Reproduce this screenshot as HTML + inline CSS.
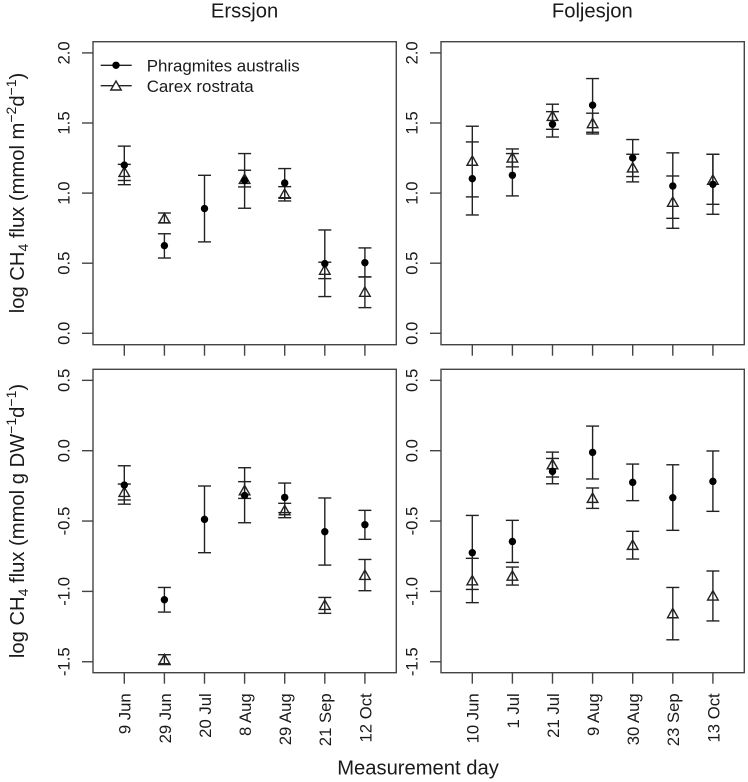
<!DOCTYPE html>
<html lang="en">
<head>
<meta charset="utf-8">
<title>Methane flux chart</title>
<style>
html,body{margin:0;padding:0;background:#fff;}
svg{display:block;}
text{font-family:"Liberation Sans",Arial,sans-serif;fill:#1a1a1a;}
</style>
</head>
<body>
<svg id="chart" xmlns="http://www.w3.org/2000/svg" width="748" height="782" viewBox="0 0 748 782">
  <rect x="0" y="0" width="748" height="782" fill="#fff"/>
  <text x="244.6" y="17.5" font-size="20.2" text-anchor="middle">Erssjon</text>
  <text x="592.3" y="17.5" font-size="20.2" text-anchor="middle">Foljesjon</text>
  <text x="418" y="774.3" font-size="20.2" text-anchor="middle">Measurement day</text>
  <text transform="translate(24,193) rotate(-90)" font-size="20.2" text-anchor="middle">log CH<tspan font-size="14" dy="4">4</tspan><tspan dy="-4"> flux (mmol m</tspan><tspan font-size="14" dy="-8">−2</tspan><tspan dy="8">d</tspan><tspan font-size="14" dy="-8">−1</tspan><tspan dy="8">)</tspan></text>
  <text transform="translate(24,521) rotate(-90)" font-size="20.2" text-anchor="middle">log CH<tspan font-size="14" dy="4">4</tspan><tspan dy="-4"> flux (mmol g DW</tspan><tspan font-size="14" dy="-8">−1</tspan><tspan dy="8">d</tspan><tspan font-size="14" dy="-8">−1</tspan><tspan dy="8">)</tspan></text>
  <g id="plots"></g>
  <g>
    <g>
      <line x1="100.7" x2="131.7" y1="65.3" y2="65.3" stroke="#222" stroke-width="1.4"/>
      <circle cx="116" cy="65.3" r="3.7" fill="#000"/>
      <text x="146.7" y="71.3" font-size="16.9">Phragmites australis</text>
    </g>
    <g>
      <line x1="100.7" x2="131.7" y1="85.7" y2="85.7" stroke="#222" stroke-width="1.4"/>
      <polygon points="116,81 121.2,90 110.8,90" fill="#fff" stroke="#222" stroke-width="1.4"/>
      <text x="146.7" y="92" font-size="16.9">Carex rostrata</text>
    </g>
  </g>
</svg>
<script>
// Tick labels
const areaTickValues = [0, 0.5, 1, 1.5, 2];
const areaTickLabels = ['0.0', '0.5', '1.0', '1.5', '2.0'];
const massTickValues = [-1.5, -1, -0.5, 0, 0.5];
const massTickLabels = ['-1.5', '-1.0', '-0.5', '0.0', '0.5'];

// Categories
const erssjonDates = ['9 Jun', '29 Jun', '20 Jul', '8 Aug', '29 Aug', '21 Sep', '12 Oct'];
const foljesjonDates = ['10 Jun', '1 Jul', '21 Jul', '9 Aug', '30 Aug', '23 Sep', '13 Oct'];

// Erssjon, per unit area
const erssjonAreaPhragMean = [1.20, 0.625, 0.89, 1.09, 1.072, 0.497, 0.504];
const erssjonAreaPhragUpper = [1.335, 0.71, 1.127, 1.282, 1.175, 0.737, 0.609];
const erssjonAreaPhragLower = [1.09, 0.537, 0.652, 0.892, 0.967, 0.262, 0.402];
const erssjonAreaCarexMean = [1.15, 0.82, null, 1.10, 0.994, 0.452, 0.295];
const erssjonAreaCarexUpper = [1.205, 0.858, null, 1.163, 1.046, 0.507, 0.402];
const erssjonAreaCarexLower = [1.06, 0.787, null, 1.044, 0.944, 0.39, 0.183];

// Foljesjon, per unit area
const foljesjonAreaPhragMean = [1.103, 1.127, 1.491, 1.627, 1.251, 1.051, 1.063];
const foljesjonAreaPhragUpper = [1.365, 1.282, 1.581, 1.817, 1.382, 1.287, 1.277];
const foljesjonAreaPhragLower = [0.844, 0.98, 1.40, 1.434, 1.118, 0.82, 0.849];
const foljesjonAreaCarexMean = [1.23, 1.253, 1.55, 1.498, 1.182, 0.937, 1.094];
const foljesjonAreaCarexUpper = [1.477, 1.315, 1.634, 1.57, 1.277, 1.122, 1.277];
const foljesjonAreaCarexLower = [0.973, 1.187, 1.455, 1.422, 1.08, 0.749, 0.92];

// Erssjon, per unit dry weight
const erssjonMassPhragMean = [-0.244, -1.059, -0.488, -0.318, -0.332, -0.576, -0.526];
const erssjonMassPhragUpper = [-0.107, -0.972, -0.251, -0.121, -0.23, -0.336, -0.424];
const erssjonMassPhragLower = [-0.38, -1.147, -0.725, -0.512, -0.44, -0.813, -0.63];
const erssjonMassCarexMean = [-0.294, -1.483, null, -0.282, -0.424, -1.097, -0.884];
const erssjonMassCarexUpper = [-0.237, -1.45, null, -0.22, -0.374, -1.043, -0.773];
const erssjonMassCarexLower = [-0.35, -1.52, null, -0.339, -0.476, -1.156, -0.995];

// Foljesjon, per unit dry weight
const foljesjonMassPhragMean = [-0.725, -0.645, -0.147, -0.012, -0.225, -0.334, -0.218];
const foljesjonMassPhragUpper = [-0.46, -0.495, -0.055, 0.175, -0.095, -0.1, -0.002];
const foljesjonMassPhragLower = [-0.986, -0.794, -0.235, -0.201, -0.355, -0.566, -0.431];
const foljesjonMassCarexMean = [-0.922, -0.889, -0.097, -0.336, -0.67, -1.156, -1.03];
const foljesjonMassCarexUpper = [-0.765, -0.827, -0.01, -0.265, -0.573, -0.972, -0.855];
const foljesjonMassCarexLower = [-1.08, -0.955, -0.187, -0.41, -0.77, -1.344, -1.21];

const NS = 'http://www.w3.org/2000/svg';
const INK = '#222';
const FRAME = '#444';

function make(parent, tag, attrs, name) {
  const el = document.createElementNS(NS, tag);
  for (const k in attrs) el.setAttribute(k, attrs[k]);
  
  
  parent.appendChild(el);
  return el;
}

function seg(parent, x1, y1, x2, y2, name, color) {
  return make(parent, 'line', {
    x1: x1, y1: y1, x2: x2, y2: y2,
    stroke: color || INK, 'stroke-width': 1.4
  }, name);
}

function errorBar(parent, x, yTop, yBottom, name) {
  const cap = 6.5;
  seg(parent, x, yTop, x, yBottom, name + '-stem');
  seg(parent, x - cap, yTop, x + cap, yTop, name + '-cap-upper');
  seg(parent, x - cap, yBottom, x + cap, yBottom, name + '-cap-lower');
}

function drawPanel(cfg) {
  const root = document.getElementById('plots');
  const g = make(root, 'g', {}, cfg.name);
  const yScale = v => cfg.y0 + (v - cfg.v0) * cfg.pxPerUnit;
  const xScale = i => cfg.x0 + i * 40.1;

  make(g, 'rect', {
    x: cfg.left, y: cfg.top, width: cfg.right - cfg.left, height: cfg.bottom - cfg.top,
    fill: 'none', stroke: FRAME, 'stroke-width': 1.4
  }, cfg.name + '-frame');

  cfg.tickValues.forEach((v, i) => {
    const y = yScale(v);
    seg(g, cfg.left - 11, y, cfg.left, y, cfg.name + '-y-tick', FRAME);
    make(g, 'text', {
      transform: 'translate(' + (cfg.left - 23.7) + ',' + y + ') rotate(-90)',
      'font-size': 16.7, 'text-anchor': 'middle'
    }, cfg.name + '-y-tick-label').textContent = cfg.tickLabels[i];
  });

  cfg.dates.forEach((d, i) => {
    const x = xScale(i);
    seg(g, x, cfg.bottom, x, cfg.bottom + 11, cfg.name + '-x-tick', FRAME);
    if (cfg.showDates) {
      make(g, 'text', {
        transform: 'translate(' + (x + 6.4) + ',' + (cfg.bottom + 20.6) + ') rotate(-90)',
        'font-size': 16.7, 'text-anchor': 'end'
      }, cfg.name + '-x-tick-label').textContent = d;
    }
  });

  cfg.dates.forEach((d, i) => {
    const x = xScale(i);
    if (cfg.carexMean[i] !== null) {
      errorBar(g, x, yScale(cfg.carexUpper[i]), yScale(cfg.carexLower[i]), cfg.name + '-carex-error-bar');
      const cy = yScale(cfg.carexMean[i]);
      make(g, 'polygon', {
        points: x + ',' + (cy - 5) + ' ' + (x + 5.3) + ',' + (cy + 4.4) + ' ' + (x - 5.3) + ',' + (cy + 4.4),
        fill: 'none', stroke: INK, 'stroke-width': 1.4
      }, cfg.name + '-carex-point');
    }
    errorBar(g, x, yScale(cfg.phragUpper[i]), yScale(cfg.phragLower[i]), cfg.name + '-phragmites-error-bar');
    make(g, 'circle', {
      cx: x, cy: yScale(cfg.phragMean[i]), r: 3.7, fill: '#000'
    }, cfg.name + '-phragmites-point');
  });
}

drawPanel({
  name: 'erssjon-area-panel', left: 93, right: 396.3, top: 41.7, bottom: 344.7,
  x0: 124.3, y0: 333.3, v0: 0, pxPerUnit: -140.2,
  tickValues: areaTickValues, tickLabels: areaTickLabels, dates: erssjonDates, showDates: false,
  phragMean: erssjonAreaPhragMean, phragUpper: erssjonAreaPhragUpper, phragLower: erssjonAreaPhragLower,
  carexMean: erssjonAreaCarexMean, carexUpper: erssjonAreaCarexUpper, carexLower: erssjonAreaCarexLower
});
drawPanel({
  name: 'foljesjon-area-panel', left: 441, right: 744.3, top: 41.7, bottom: 344.7,
  x0: 472.3, y0: 333.3, v0: 0, pxPerUnit: -140.2,
  tickValues: areaTickValues, tickLabels: areaTickLabels, dates: foljesjonDates, showDates: false,
  phragMean: foljesjonAreaPhragMean, phragUpper: foljesjonAreaPhragUpper, phragLower: foljesjonAreaPhragLower,
  carexMean: foljesjonAreaCarexMean, carexUpper: foljesjonAreaCarexUpper, carexLower: foljesjonAreaCarexLower
});
drawPanel({
  name: 'erssjon-mass-panel', left: 93, right: 396.3, top: 369.3, bottom: 672.7,
  x0: 124.3, y0: 450.7, v0: 0, pxPerUnit: -140.7,
  tickValues: massTickValues, tickLabels: massTickLabels, dates: erssjonDates, showDates: true,
  phragMean: erssjonMassPhragMean, phragUpper: erssjonMassPhragUpper, phragLower: erssjonMassPhragLower,
  carexMean: erssjonMassCarexMean, carexUpper: erssjonMassCarexUpper, carexLower: erssjonMassCarexLower
});
drawPanel({
  name: 'foljesjon-mass-panel', left: 441, right: 744.3, top: 369.3, bottom: 672.7,
  x0: 472.3, y0: 450.7, v0: 0, pxPerUnit: -140.7,
  tickValues: massTickValues, tickLabels: massTickLabels, dates: foljesjonDates, showDates: true,
  phragMean: foljesjonMassPhragMean, phragUpper: foljesjonMassPhragUpper, phragLower: foljesjonMassPhragLower,
  carexMean: foljesjonMassCarexMean, carexUpper: foljesjonMassCarexUpper, carexLower: foljesjonMassCarexLower
});
</script>
</body>
</html>
